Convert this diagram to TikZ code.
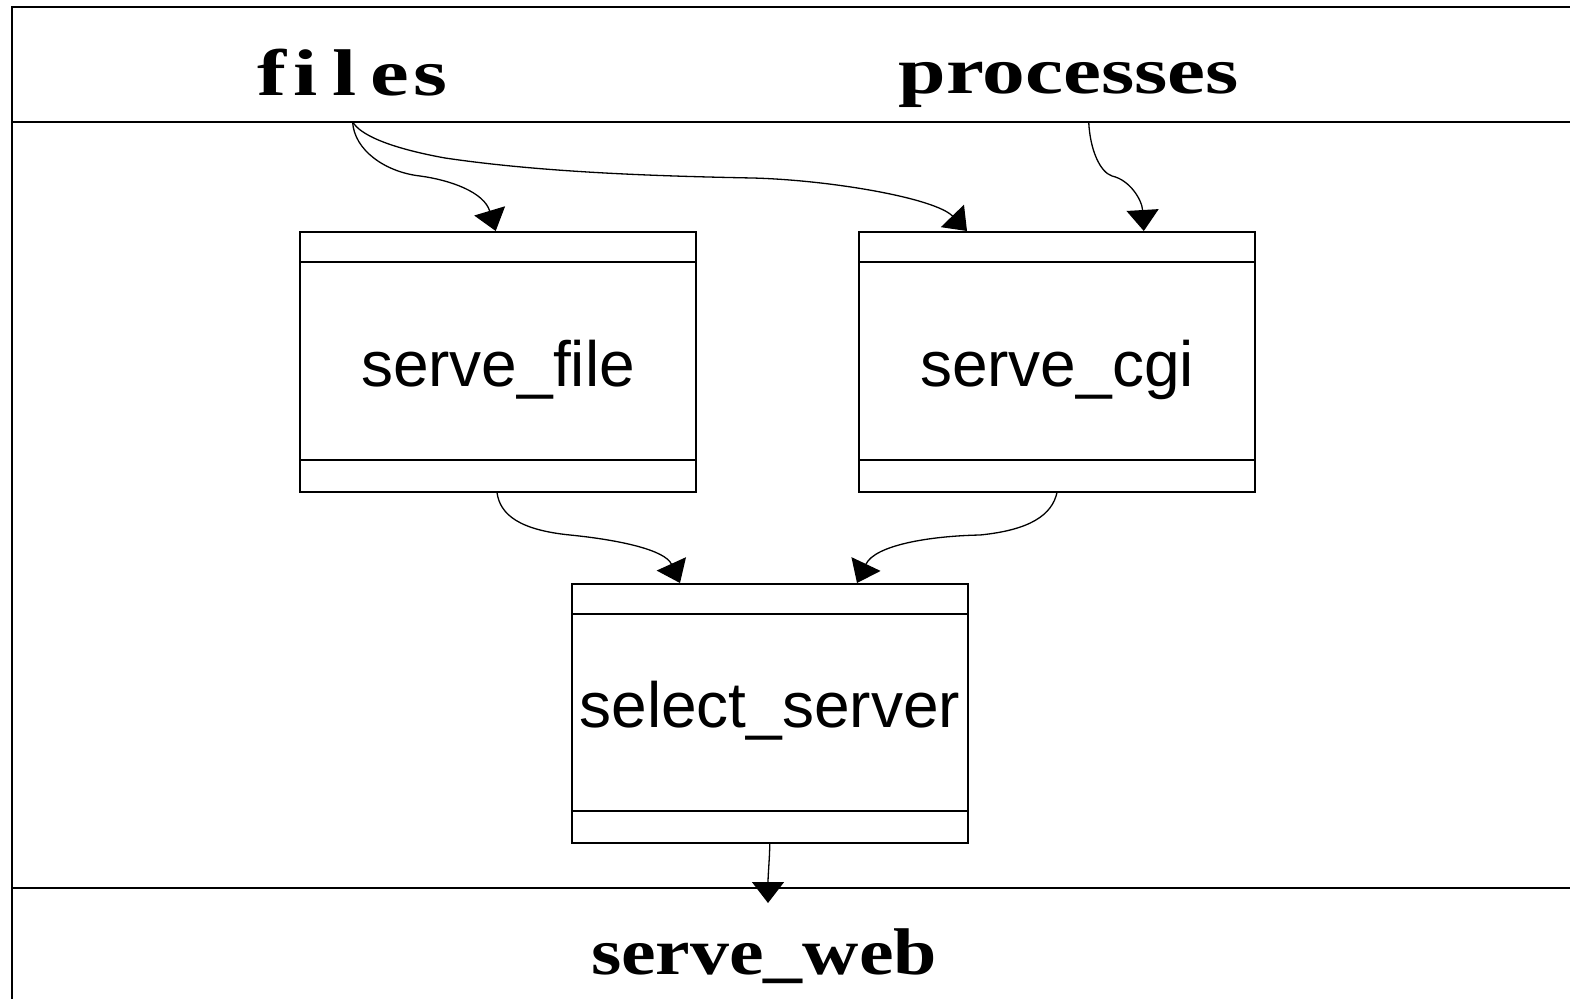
\documentclass[tikz,border=0pt]{standalone}
\usepackage{fontspec}
\usepackage{graphicx}
\usetikzlibrary{arrows.meta}
\newfontfamily\boxfont{Liberation Sans}
\newfontfamily\labfont{Liberation Serif}
\begin{document}
\begin{tikzpicture}[x=1pt,y=-1pt,
  frameline/.style={line width=2pt, line join=miter},
  procbox/.style={draw, line width=2pt, rectangle, minimum width=396pt, minimum height=259.5pt, inner sep=0pt,
    font=\boxfont\fontsize{64pt}{70pt}\selectfont, text depth=13pt},
  lab/.style={inner sep=0pt, anchor=base, font=\labfont\bfseries\fontsize{66pt}{72pt}\selectfont},
  conn/.style={line width=1.3pt, -{Triangle[length=21pt,width=32pt]}},
  sepline/.style={line width=2pt}
]
\useasboundingbox (0,0) rectangle (1570,998);
% frame and bands
\draw[frameline] (1575,7.5) -- (11.5,7.5) -- (11.5,1003);
\draw[frameline] (11.5,121.7) -- (1575,121.7);
\draw[frameline] (11.5,887.5) -- (1575,887.5);
% labels
\node[lab] (files) at (352.5,95) {\scalebox{1.32}[1]{f\kern5pt i\kern11pt l\kern11pt e\kern3pt s}};
\node[lab] (procs) at (1069,93) {\scalebox{1.295}[1]{processes}};
\node[lab] (web) at (764,974) {\scalebox{1.18}[1]{serve\_web}};
% boxes
\node[procbox, text height=61.5pt] (file) at (498,361.75) {serve\_file};
\node[procbox, text height=61.5pt] (cgi) at (1057,361.75) {serve\_cgi};
\node[procbox, text height=40.5pt, minimum height=259pt] (sel) at (769.8,713.5) {select\_server};
\foreach \n in {file,cgi,sel} {
  \draw[sepline] ([yshift=-30.7pt]\n.north west) -- ([yshift=-30.7pt]\n.north east);
  \draw[sepline] ([yshift=32.7pt]\n.south west) -- ([yshift=32.7pt]\n.south east);
}
% connectors
\coordinate (filesout) at (352.6,121.7);
\coordinate (procsout) at (1088.7,121.7);
\coordinate (webin) at (768,903);
\draw[conn] (filesout) .. controls (354,150) and (385,172) .. (420,176)
  .. controls (450,180) and (484,192) .. ([xshift=-2.3pt]file.north);
\draw[conn] (filesout) .. controls (360,135) and (390,148) .. (445,158)
  .. controls (540,172) and (650,176) .. (752.5,178)
  .. controls (830,180) and (935,198) .. ([xshift=-90pt]cgi.north);
\draw[conn] (procsout) .. controls (1090,150) and (1100,172) .. (1112,176)
  .. controls (1130,180) and (1142,200) .. ([xshift=86.8pt]cgi.north);
\draw[conn] ([xshift=-1pt]file.south) .. controls (500,515) and (520,530) .. (570,535)
  .. controls (620,540) and (665,550) .. ([xshift=-89.8pt]sel.north);
\draw[conn] (cgi.south) .. controls (1052,515) and (1030,530) .. (980,535)
  .. controls (930,536) and (875,545) .. ([xshift=87.2pt]sel.north);
\draw[conn] (sel.south) .. controls (769.5,860) and (768,875) .. (webin);
\end{tikzpicture}
\end{document}
